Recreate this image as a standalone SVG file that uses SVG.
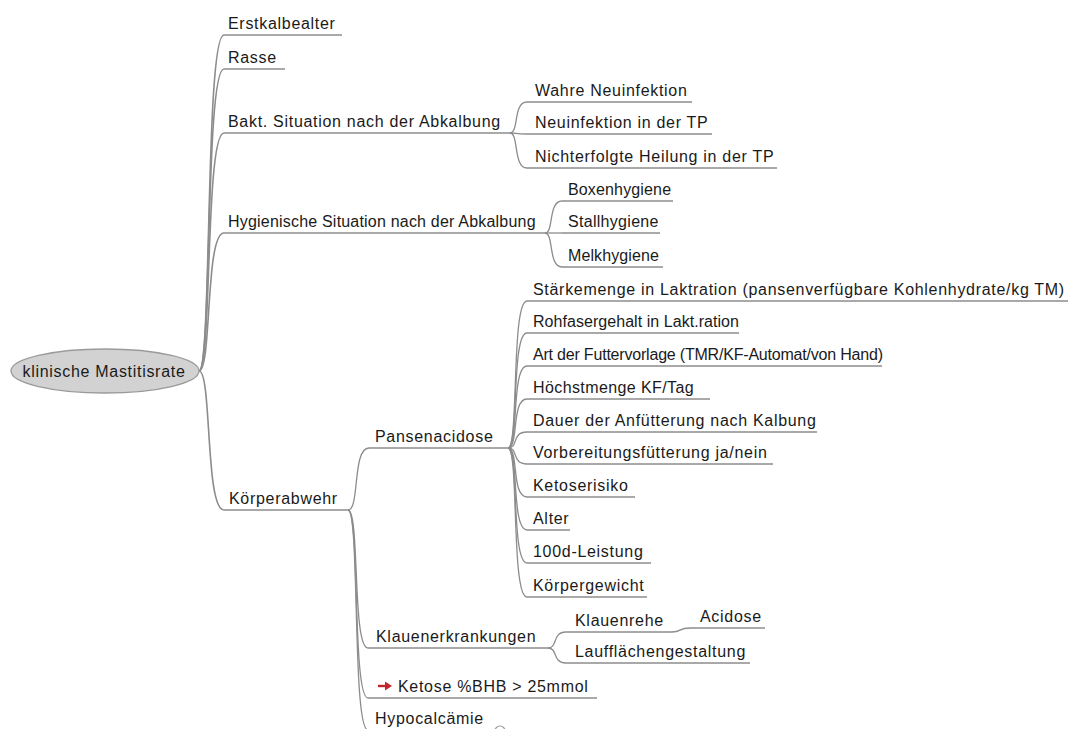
<svg xmlns="http://www.w3.org/2000/svg" width="1073" height="729" viewBox="0 0 1073 729">
<style>
  text { font-family: "Liberation Sans", Arial, sans-serif; font-size: 16px; fill: #1a1a1a; letter-spacing: 0.7px; }
  .ul { stroke: #8c8c8c; stroke-width: 1.3; fill: none; }
  .c { stroke: #8c8c8c; stroke-width: 1.3; fill: none; }
  .c0 { stroke: #8c8c8c; stroke-width: 1.6; fill: none; }
</style>
<rect width="1073" height="729" fill="#ffffff"/>

<g id="connectors">
  <!-- root -->
  <path class="c0" d="M199,371 C212,371 205,35 224,35"/>
  <path class="c0" d="M199,371 C212,371 205,69 224,69"/>
  <path class="c0" d="M199,371 C212,371 205,133 224,133"/>
  <path class="c0" d="M199,371 C212,371 205,233 224,233"/>
  <path class="c0" d="M199,371 C212,371 205,510 224,510"/>
  <!-- Bakt -->
  <path class="c" d="M510,133 C519,133 513,102 527,102"/>
  <path class="c" d="M510,133 C519,133 513,134 527,134"/>
  <path class="c" d="M510,133 C519,133 513,168 527,168"/>
  <!-- Hygiene -->
  <path class="c" d="M545,233 C554,233 548,201 562,201"/>
  <path class="c" d="M545,233 C554,233 548,233 562,233"/>
  <path class="c" d="M545,233 C554,233 548,267 562,267"/>
  <!-- Koerperabwehr -->
  <path class="c" d="M348,510 C360,510 352,448 369,448"/>
  <path class="c" d="M348,510 C360,510 352,648 368,648"/>
  <path class="c" d="M348,510 C360,510 352,698 368,698"/>
  <path class="c" d="M348,510 C360,510 352,730 368,730"/>
  <!-- Pansenacidose -->
  <path class="c" d="M508,448 C519,448 511,301 527,301"/>
  <path class="c" d="M508,448 C519,448 511,333 527,333"/>
  <path class="c" d="M508,448 C519,448 511,366 527,366"/>
  <path class="c" d="M508,448 C519,448 511,399 527,399"/>
  <path class="c" d="M508,448 C519,448 511,432 527,432"/>
  <path class="c" d="M508,448 C519,448 511,464 527,464"/>
  <path class="c" d="M508,448 C519,448 511,497 527,497"/>
  <path class="c" d="M508,448 C519,448 511,530 527,530"/>
  <path class="c" d="M508,448 C519,448 511,563 527,563"/>
  <path class="c" d="M508,448 C519,448 511,597 527,597"/>
  <!-- Klauenerkrankungen -->
  <path class="c" d="M548,648 C558,648 552,632 566,632"/>
  <path class="c" d="M548,648 C558,648 552,663 566,663"/>
  <!-- Klauenrehe -> Acidose -->
  <path class="c" d="M672,632 C682,632 678,628 690,628"/>
</g>

<g id="root">
  <ellipse cx="105" cy="371" rx="94" ry="22" fill="#d2d2d2" stroke="#9a9a9a" stroke-width="1.3"/>
  <text x="104" y="377" text-anchor="middle">klinische Mastitisrate</text>
</g>

<g id="n-erstkalbealter"><text x="228" y="29">Erstkalbealter</text><line class="ul" x1="224" y1="35" x2="342" y2="35"/></g>
<g id="n-rasse"><text x="228" y="63">Rasse</text><line class="ul" x1="224" y1="69" x2="285" y2="69"/></g>
<g id="n-bakt"><text x="228" y="127">Bakt. Situation nach der Abkalbung</text><line class="ul" x1="224" y1="133" x2="510" y2="133"/></g>
<g id="n-wahre"><text x="535" y="96">Wahre Neuinfektion</text><line class="ul" x1="527" y1="102" x2="692" y2="102"/></g>
<g id="n-neuinf"><text x="535" y="128">Neuinfektion in der TP</text><line class="ul" x1="527" y1="134" x2="712" y2="134"/></g>
<g id="n-nichterf"><text x="535" y="162">Nichterfolgte Heilung in der TP</text><line class="ul" x1="527" y1="168" x2="777" y2="168"/></g>

<g id="n-hygiene"><text x="228" y="227" style="letter-spacing:0.2px">Hygienische Situation nach der Abkalbung</text><line class="ul" x1="224" y1="233" x2="545" y2="233"/></g>
<g id="n-boxen"><text x="568" y="195" style="letter-spacing:0.15px">Boxenhygiene</text><line class="ul" x1="562" y1="201" x2="673" y2="201"/></g>
<g id="n-stall"><text x="568" y="227" style="letter-spacing:0.3px">Stallhygiene</text><line class="ul" x1="562" y1="233" x2="660" y2="233"/></g>
<g id="n-melk"><text x="568" y="261" style="letter-spacing:0.1px">Melkhygiene</text><line class="ul" x1="562" y1="267" x2="663" y2="267"/></g>

<g id="n-koerperabwehr"><text x="229" y="504">Körperabwehr</text><line class="ul" x1="224" y1="510" x2="348" y2="510"/></g>
<g id="n-pansen"><text x="375" y="442">Pansenacidose</text><line class="ul" x1="369" y1="448" x2="508" y2="448"/></g>

<g id="n-staerke"><text x="533" y="295">Stärkemenge in Laktration (pansenverfügbare Kohlenhydrate/kg TM)</text><line class="ul" x1="527" y1="301" x2="1068" y2="301"/></g>
<g id="n-rohfaser"><text x="533" y="327" style="letter-spacing:0.05px">Rohfasergehalt in Lakt.ration</text><line class="ul" x1="527" y1="333" x2="739" y2="333"/></g>
<g id="n-art"><text x="533" y="360" style="letter-spacing:-0.2px">Art der Futtervorlage (TMR/KF-Automat/von Hand)</text><line class="ul" x1="527" y1="366" x2="882" y2="366"/></g>
<g id="n-hoechst"><text x="533" y="393" style="letter-spacing:0.4px">Höchstmenge KF/Tag</text><line class="ul" x1="527" y1="399" x2="710" y2="399"/></g>
<g id="n-dauer"><text x="533" y="426">Dauer der Anfütterung nach Kalbung</text><line class="ul" x1="527" y1="432" x2="817" y2="432"/></g>
<g id="n-vorb"><text x="533" y="458">Vorbereitungsfütterung ja/nein</text><line class="ul" x1="527" y1="464" x2="773" y2="464"/></g>
<g id="n-ketoserisiko"><text x="533" y="491">Ketoserisiko</text><line class="ul" x1="527" y1="497" x2="635" y2="497"/></g>
<g id="n-alter"><text x="533" y="524">Alter</text><line class="ul" x1="527" y1="530" x2="570" y2="530"/></g>
<g id="n-100d"><text x="533" y="557">100d-Leistung</text><line class="ul" x1="527" y1="563" x2="651" y2="563"/></g>
<g id="n-koerpergewicht"><text x="533" y="591">Körpergewicht</text><line class="ul" x1="527" y1="597" x2="647" y2="597"/></g>

<g id="n-klauen"><text x="376" y="642">Klauenerkrankungen</text><line class="ul" x1="368" y1="648" x2="548" y2="648"/></g>
<g id="n-klauenrehe"><text x="575" y="626">Klauenrehe</text><line class="ul" x1="566" y1="632" x2="672" y2="632"/></g>
<g id="n-acidose"><text x="700" y="622">Acidose</text><line class="ul" x1="690" y1="628" x2="765" y2="628"/></g>
<g id="n-laufflaeche"><text x="575" y="657">Laufflächengestaltung</text><line class="ul" x1="566" y1="663" x2="750" y2="663"/></g>

<g id="n-ketose">
  <path d="M378,686 L387,686" stroke="#c0262c" stroke-width="2.4" fill="none"/>
  <path d="M385,681.5 L392,686 L385,690.5 z" fill="#c0262c"/>
  <text x="398" y="692">Ketose %BHB &gt; 25mmol</text>
  <line class="ul" x1="368" y1="698" x2="597" y2="698"/>
</g>
<g id="n-hypocal">
  <text x="375" y="724">Hypocalcämie</text>
  <line class="ul" x1="368" y1="730" x2="494" y2="730"/>
  <circle cx="500" cy="731" r="5" fill="#ffffff" stroke="#9a9a9a" stroke-width="1.2"/>
</g>
</svg>
